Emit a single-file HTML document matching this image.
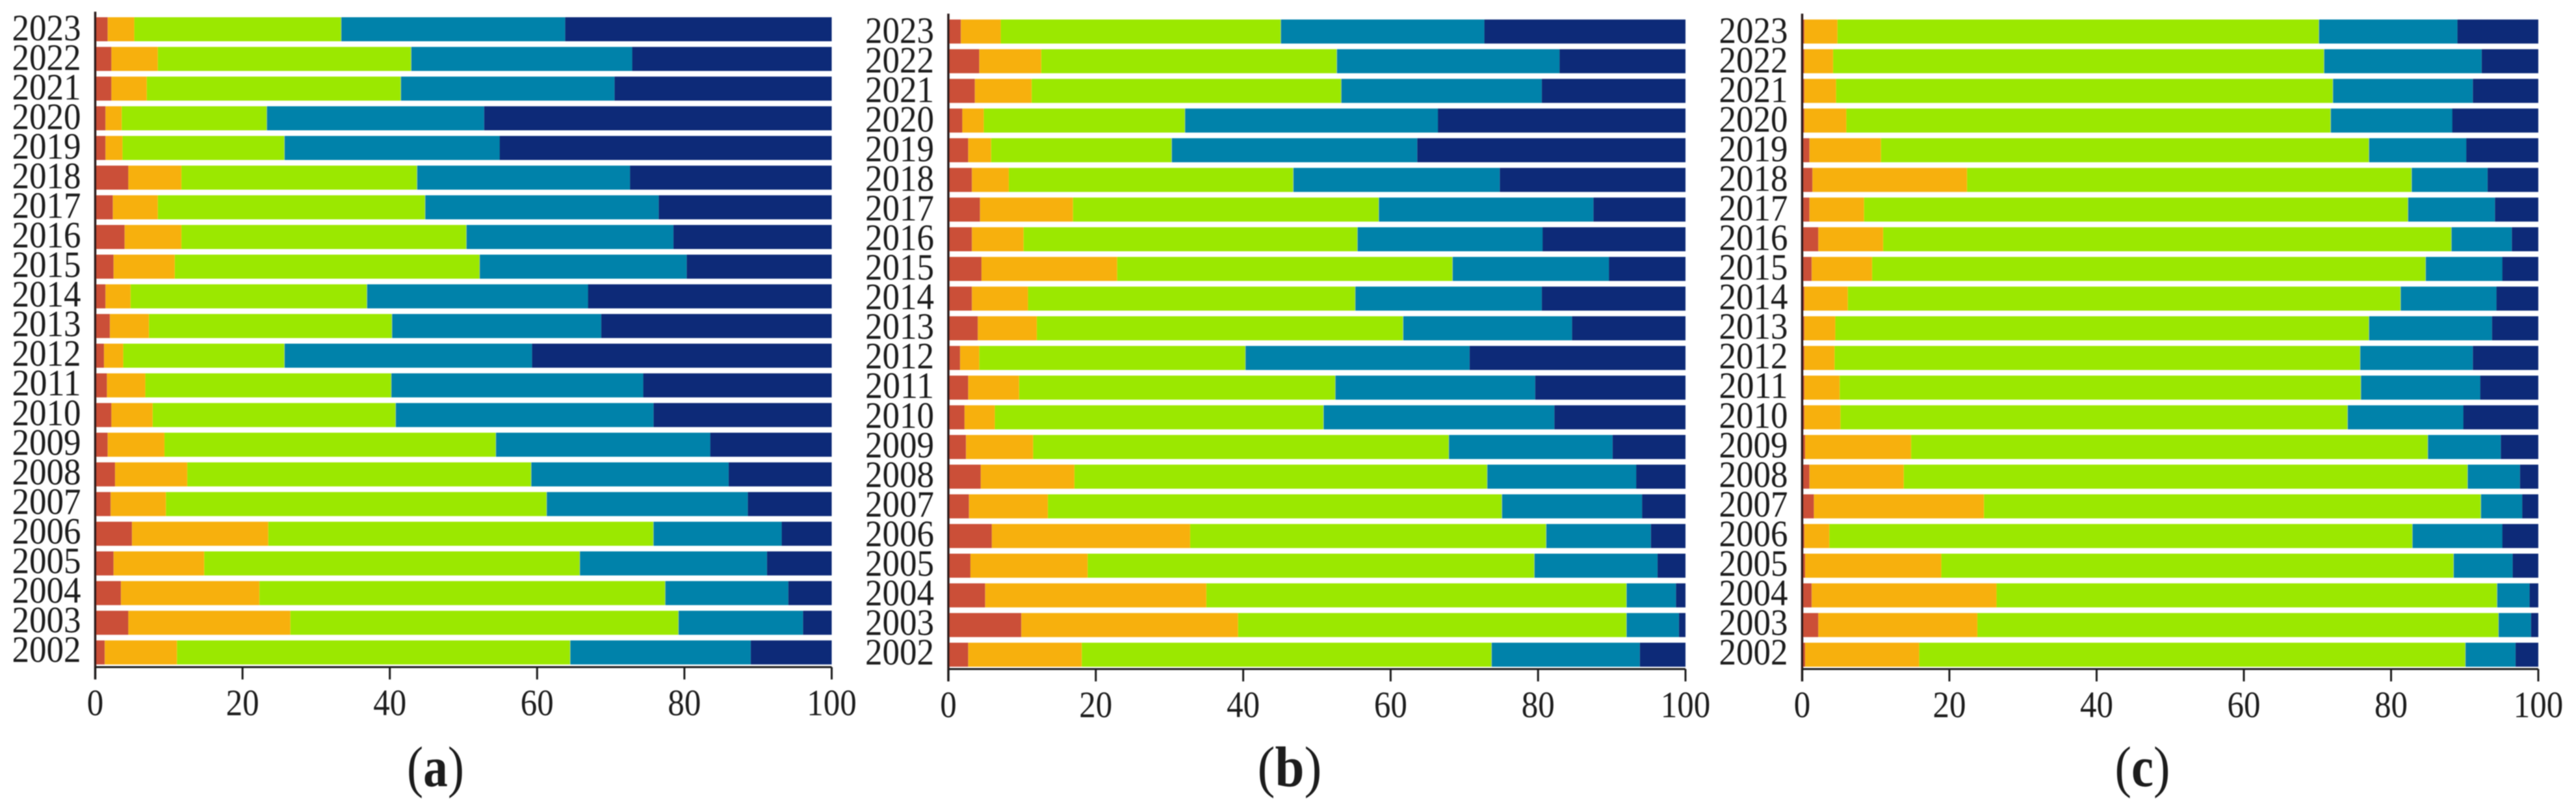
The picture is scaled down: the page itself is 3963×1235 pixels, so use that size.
<!DOCTYPE html>
<html lang="en">
<head>
<meta charset="utf-8">
<title>Stacked share bars 2002–2023, panels a, b and c</title>
<style>
html,body{margin:0;padding:0;background:#fff;width:3963px;height:1235px;overflow:hidden}
svg{display:block;position:absolute;left:0;top:0}
text{font-family:"Liberation Serif","Times New Roman",serif;fill:#1a1a1a}
</style>
</head>
<body>
<svg id="chart" xmlns="http://www.w3.org/2000/svg" width="3963" height="1235" viewBox="0 0 3963 1235">
<defs><filter id="soft" x="-2%" y="-2%" width="104%" height="104%"><feGaussianBlur stdDeviation="0.7"/></filter></defs>
<g id="root" filter="url(#soft)"></g>
</svg>
<script>
const years = ["2023","2022","2021","2020","2019","2018","2017","2016","2015","2014","2013","2012","2011","2010","2009","2008","2007","2006","2005","2004","2003","2002"];
const xTicks = [0,20,40,60,80,100];

const aSeries1 = [1.7,2.2,2.2,1.4,1.4,4.5,2.4,4.0,2.5,1.4,2.0,1.2,1.6,2.2,1.7,2.7,2.1,5.0,2.5,3.5,4.5,1.3];
const aSeries2 = [3.6,6.3,4.8,2.2,2.3,7.2,6.1,7.7,8.3,3.4,5.3,2.6,5.2,5.6,7.7,9.8,7.5,18.5,12.3,18.8,22.0,9.8];
const aSeries3 = [28.1,34.4,34.5,19.7,22.0,32.0,36.3,38.7,41.4,32.1,33.0,21.9,33.4,33.0,45.0,46.7,51.7,52.3,51.0,55.1,52.7,53.4];
const aSeries4 = [30.4,30.0,29.0,29.5,29.2,28.9,31.7,28.1,28.1,30.0,28.4,33.6,34.2,35.0,29.1,26.8,27.3,17.4,25.4,16.7,16.9,24.5];
const aSeries5 = [36.2,27.1,29.5,47.2,45.1,27.4,23.5,21.5,19.7,33.1,31.3,40.7,25.6,24.2,16.5,14.0,11.4,6.8,8.8,5.9,3.9,11.0];

const bSeries1 = [1.7,4.2,3.6,1.9,2.7,3.2,4.3,3.2,4.5,3.2,4.0,1.6,2.7,2.2,2.4,4.4,2.8,5.9,3.0,5.0,9.9,2.7];
const bSeries2 = [5.4,8.4,7.7,2.9,3.1,5.0,12.6,7.0,18.4,7.6,8.0,2.6,6.9,4.1,9.1,12.7,10.7,26.9,15.9,30.0,29.4,15.4];
const bSeries3 = [38.0,40.1,42.0,27.3,24.5,38.6,41.5,45.3,45.5,44.4,49.7,36.1,42.9,44.6,56.4,56.0,61.6,48.3,60.6,57.0,52.7,55.6];
const bSeries4 = [27.6,30.2,27.2,34.3,33.3,28.0,29.1,25.1,21.2,25.3,22.9,30.4,27.1,31.3,22.2,20.2,19.0,14.2,16.7,6.7,7.1,20.1];
const bSeries5 = [27.3,17.1,19.5,33.6,36.4,25.2,12.5,19.4,10.4,19.5,15.4,29.3,20.4,17.8,9.9,6.7,5.9,4.7,3.8,1.3,0.9,6.2];

const cSeries1 = [0.3,0.3,0.3,0.3,1.0,1.4,1.0,2.2,1.3,0.3,0.3,0.3,0.3,0.3,0.4,1.0,1.6,0.3,0.4,1.3,2.2,0.4];
const cSeries2 = [4.5,3.9,4.3,5.7,9.7,21.0,7.4,8.8,8.2,5.9,4.2,4.1,4.8,4.9,14.4,12.8,23.1,3.4,18.5,25.1,21.6,15.5];
const cSeries3 = [65.4,66.7,67.5,65.8,66.3,60.4,73.9,77.2,75.2,75.1,72.5,71.4,70.8,68.9,70.2,76.6,67.5,79.2,69.6,68.0,70.8,74.2];
const cSeries4 = [18.8,21.4,19.0,16.5,13.2,10.3,11.8,8.2,10.4,13.0,16.7,15.3,16.2,15.7,9.9,7.1,5.6,12.2,8.0,4.4,4.4,6.8];
const cSeries5 = [11.0,7.7,8.9,11.7,9.8,6.9,5.9,3.6,4.9,5.7,6.3,8.9,7.9,10.2,5.1,2.5,2.2,4.9,3.5,1.2,1.0,3.1];

const seriesColors = ["#cb5038","#f7b010","#9be800","#0082aa","#0d2a78"];
const NS = "http://www.w3.org/2000/svg";
const root = document.getElementById("root");

function node(tag, attrs, parent) {
  const el = document.createElementNS(NS, tag);
  for (const k in attrs) el.setAttribute(k, attrs[k]);
  parent.appendChild(el);
  return el;
}

function drawPanel(cfg) {
  const group = node("g", {}, root);
  
  

  const xScale = v => cfg.x0 + (v / 100) * cfg.plotWidth;
  const yScale = i => cfg.barTop + i * cfg.pitch;

  years.forEach((year, i) => {
    let acc = 0;
    cfg.series.forEach((values, s) => {
      const x1 = xScale(acc);
      acc += values[i];
      const x2 = xScale(acc);
      const rect = node("rect", {x: x1, y: yScale(i), width: Math.max(0, x2 - x1), height: cfg.barHeight, fill: seriesColors[s]}, group);
      
      
    });
    const label = node("text", {x: cfg.x0 - 22, y: cfg.labelBase + i * 45.52, "text-anchor": "end", "font-size": 57, textLength: 106, lengthAdjust: "spacingAndGlyphs"}, group);
    label.textContent = year;
    
    
  });

  const xAxis = node("line", {x1: cfg.x0, x2: cfg.x0 + cfg.plotWidth, y1: cfg.axisY, y2: cfg.axisY, stroke: "#1a1a1a", "stroke-width": 3}, group);
  
  

  const yAxis = node("line", {x1: cfg.x0, x2: cfg.x0, y1: cfg.axisTop, y2: cfg.axisY + 19, stroke: "#2a1a1a", "stroke-width": 3.5}, group);
  
  

  xTicks.forEach(t => {
    const tx = xScale(t);
    const tick = node("line", {x1: tx, x2: tx, y1: cfg.axisY, y2: cfg.axisY + 19, stroke: "#1a1a1a", "stroke-width": 3}, group);
    
    
    const s = String(t);
    const lab = node("text", {x: tx, y: cfg.axisY + 74, "text-anchor": "middle", "font-size": 57, textLength: s.length * 25.5, lengthAdjust: "spacingAndGlyphs"}, group);
    lab.textContent = s;
    
    
  });

  const caption = node("text", {x: cfg.capX, y: 1209, "text-anchor": "middle", "font-size": 88, textLength: cfg.capW, lengthAdjust: "spacingAndGlyphs"}, group);
  
  
  const open = node("tspan", {}, caption);
  open.textContent = "(";
  const letter = node("tspan", {"font-weight": "bold"}, caption);
  letter.textContent = cfg.id;
  const close = node("tspan", {}, caption);
  close.textContent = ")";
}

drawPanel({id: "a", x0: 146.5, plotWidth: 1133, barTop: 26.5, pitch: 45.64, barHeight: 37, labelBase: 62, axisY: 1026, axisTop: 18, capX: 670, capW: 88, series: [aSeries1, aSeries2, aSeries3, aSeries4, aSeries5]});
drawPanel({id: "b", x0: 1459, plotWidth: 1134, barTop: 30, pitch: 45.64, barHeight: 37, labelBase: 66, axisY: 1029, axisTop: 21, capX: 1984, capW: 99, series: [bSeries1, bSeries2, bSeries3, bSeries4, bSeries5]});
drawPanel({id: "c", x0: 2772.5, plotWidth: 1132.5, barTop: 30, pitch: 45.64, barHeight: 37, labelBase: 66, axisY: 1029, axisTop: 21, capX: 3296, capW: 85, series: [cSeries1, cSeries2, cSeries3, cSeries4, cSeries5]});
</script>
</body>
</html>
